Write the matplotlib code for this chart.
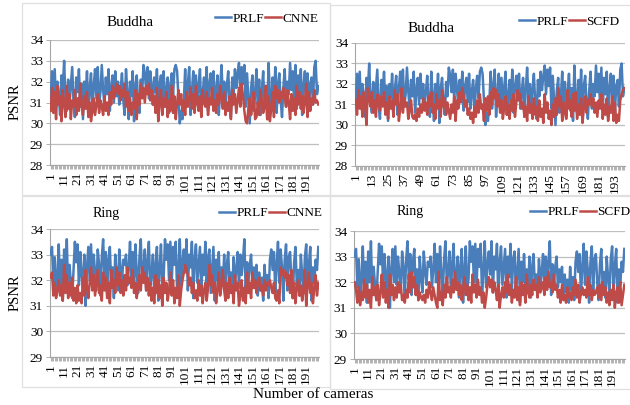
import numpy as np
import matplotlib
matplotlib.use("Agg")
import matplotlib.pyplot as plt
from matplotlib.patches import Rectangle

# ---------------- data ----------------
buddha_prlf = [
    31.2, 32.5, 31.0, 32.6, 30.8, 32.0, 31.4, 30.4, 32.3, 31.6,
    33.0, 31.2, 30.6, 32.1, 30.9, 31.8, 32.7, 31.0, 30.3, 32.2,
    31.5, 32.6, 30.8, 31.9, 30.2, 32.0, 31.3, 32.5, 30.6, 31.7,
    32.4, 30.5, 31.8, 32.6, 31.2, 32.7, 30.9, 31.5, 32.8, 31.6,
    30.8, 32.2, 31.4, 32.6, 30.6, 31.7, 32.3, 31.0, 32.5, 31.3,
    32.0, 30.9, 31.6, 32.4, 31.1, 30.4, 32.6, 31.5, 30.2, 32.0,
    31.3, 32.5, 30.1, 31.8, 32.3, 31.0, 30.5, 32.1, 31.4, 32.8,
    32.4, 31.6, 32.7, 31.2, 32.5, 31.8, 30.9, 32.2, 31.5, 32.6,
    30.7, 31.9, 32.3, 31.1, 32.5, 30.8, 31.6, 32.2, 30.5, 31.8,
    32.4, 31.3, 32.6, 32.8, 32.5, 31.2, 30.0, 30.6, 30.2, 31.1,
    32.6, 30.8, 31.9, 32.7, 30.4, 31.5, 32.5, 31.0, 32.3, 30.9,
    31.8, 32.6, 30.5, 31.4, 32.2, 31.0, 32.7, 30.6, 31.9, 32.4,
    31.2, 32.5, 30.8, 31.6, 32.3, 30.4, 31.7, 32.8, 31.3, 32.0,
    30.6, 31.8, 32.5, 31.1, 30.3, 32.2, 31.4, 32.6, 31.7, 32.4,
    32.9, 31.5, 32.7, 31.9, 32.8, 30.8, 32.4, 31.2, 30.0, 31.7,
    32.3, 30.6, 31.4, 32.6, 30.9, 32.1, 30.4, 31.6, 32.5, 30.7,
    31.8, 30.2, 32.9, 31.3, 30.6, 32.2, 31.0, 32.7, 30.5, 31.9,
    32.4, 31.1, 30.3, 31.7, 32.6, 30.8, 32.0, 31.4, 32.9, 31.6,
    32.5, 31.0, 32.8, 30.7, 32.3, 31.5, 32.6, 30.4, 31.8, 32.5,
    31.2, 32.4, 30.6, 31.9, 32.2, 30.9, 32.7, 33.0, 31.4, 31.8,
]

buddha_cnne = [
    30.6, 31.7, 30.5, 31.5, 30.2, 31.8, 30.9, 31.3, 30.1, 31.6,
    31.0, 30.3, 31.8, 30.7, 31.4, 30.2, 31.1, 30.8, 31.6, 30.4,
    31.2, 30.6, 31.9, 30.9, 30.4, 31.3, 30.7, 31.5, 30.3, 31.0,
    30.1, 30.6, 31.2, 30.4, 30.9, 31.4, 30.5, 31.1, 30.8, 30.4,
    31.3, 30.6, 31.0, 30.4, 31.5, 30.9, 31.8, 31.2, 31.6, 31.9,
    31.4, 31.8, 31.1, 31.6, 31.3, 31.9, 30.8, 31.5, 30.6, 31.2,
    30.4, 31.0, 30.7, 31.6, 30.2, 31.4, 30.9, 31.9, 31.2, 31.7,
    31.0, 31.8, 31.4, 31.9, 31.1, 31.6, 30.9, 31.3, 30.5, 31.7,
    30.1, 31.0, 31.6, 30.4, 31.2, 30.8, 31.5, 30.3, 31.1, 30.6,
    31.8, 30.5, 31.3, 30.2, 31.0, 31.6, 30.9, 31.4, 30.6, 31.1,
    30.4, 31.5, 30.8, 31.2, 31.7, 30.7, 31.4, 30.5, 31.8, 31.0,
    30.6, 31.3, 30.3, 31.6, 31.0, 30.8, 31.5, 30.4, 31.2, 30.9,
    31.7, 30.6, 31.1, 30.5, 31.4, 30.9, 31.8, 31.2, 30.7, 31.5,
    30.4, 31.0, 30.6, 31.3, 30.2, 31.6, 30.9, 31.4, 30.5, 31.1,
    31.7, 30.8, 31.9, 31.3, 30.6, 30.1, 30.0, 30.7, 31.2, 30.4,
    30.9, 31.5, 30.2, 30.3, 31.0, 30.4, 31.6, 31.1, 30.5, 30.9,
    31.8, 30.2, 31.3, 30.1, 30.7, 31.5, 30.3, 31.8, 31.2, 31.6,
    31.0, 31.5, 31.2, 31.7, 31.3, 30.8, 31.6, 31.0, 30.2, 31.4,
    30.6, 31.2, 30.4, 31.8, 30.9, 31.5, 30.7, 31.3, 30.5, 31.0,
    31.9, 30.3, 31.5, 30.6, 31.2, 30.9, 31.6, 31.0, 31.1, 30.9,
]

buddha_scfd = [
    31.2, 30.5, 31.7, 30.8, 31.4, 30.4, 31.6, 31.0, 30.0, 31.8,
    31.3, 30.9, 31.6, 30.6, 31.2, 30.4, 31.5, 31.0, 30.7, 31.4,
    30.9, 31.6, 30.5, 31.1, 30.3, 31.4, 30.8, 31.2, 30.4, 31.7,
    31.0, 31.5, 30.2, 30.8, 31.8, 30.6, 31.3, 30.9, 31.1, 30.3,
    30.7, 31.2, 30.4, 30.3, 30.5, 30.2, 30.8, 30.4, 31.0, 30.6,
    31.3, 30.7, 31.1, 30.5, 31.4, 30.9, 31.6, 30.6, 31.0, 30.3,
    31.5, 30.8, 31.2, 30.4, 31.7, 30.9, 31.3, 30.5, 31.1, 30.7,
    30.3, 31.0, 30.6, 31.4, 30.2, 31.2, 30.8, 31.6, 31.1, 31.8,
    31.4, 30.9, 31.2, 30.5, 30.8, 30.3, 30.6, 30.1, 30.9, 30.4,
    31.2, 30.6, 31.5, 30.8, 31.0, 30.2, 31.3, 30.7, 31.4, 30.5,
    31.6, 31.0, 31.8, 31.3, 31.7, 30.9, 31.5, 30.6, 31.2, 30.3,
    30.8, 31.4, 30.5, 31.0, 30.3, 31.2, 30.7, 31.5, 30.4, 31.1,
    31.7, 31.2, 31.5, 30.8, 31.1, 30.4, 30.9, 30.2, 31.4, 30.6,
    31.0, 30.3, 31.3, 30.5, 30.9, 30.2, 31.2, 30.4, 30.8, 30.1,
    31.5, 30.6, 31.1, 30.3, 30.7, 30.0, 31.0, 30.4, 31.3, 30.5,
    31.8, 30.9, 31.4, 30.2, 31.1, 30.6, 30.3, 31.7, 30.8, 31.2,
    30.4, 31.5, 30.7, 31.6, 30.3, 31.0, 30.5, 31.3, 30.1, 30.8,
    31.4, 30.6, 31.2, 31.0, 31.5, 30.9, 31.3, 30.6, 31.1, 30.4,
    31.2, 30.8, 31.5, 30.3, 31.0, 30.5, 31.3, 30.2, 30.9, 30.6,
    31.4, 30.2, 31.1, 30.1, 30.5, 30.2, 31.2, 31.5, 31.7, 31.8,
]

ring_prlf = [
    33.0, 33.3, 31.8, 32.9, 31.4, 32.1, 33.4, 31.6, 32.8, 31.2,
    33.2, 32.0, 33.6, 31.5, 32.6, 31.9, 31.3, 32.4, 33.5, 32.7,
    33.4, 31.8, 33.1, 32.2, 31.7, 33.0, 31.0, 32.5, 33.3, 32.0,
    33.4, 31.9, 33.0, 32.3, 31.6, 33.2, 32.6, 31.4, 32.9, 33.6,
    32.1, 33.1, 31.5, 32.8, 33.3, 31.8, 32.5, 31.3, 33.0, 32.2,
    31.6, 33.2, 32.4, 31.9, 32.8, 32.6, 33.0, 31.8, 32.5, 33.5,
    32.0, 33.1, 31.7, 33.4, 32.3, 31.5, 32.9, 33.6, 31.9, 32.4,
    33.2, 31.6, 32.7, 33.5, 31.8, 32.2, 33.0, 31.4, 32.6, 33.3,
    31.2, 32.5, 33.4, 31.7, 32.1, 33.6, 32.8, 33.4, 32.0, 33.5,
    31.9, 33.3, 32.6, 33.5, 31.5, 32.4, 33.6, 31.8, 32.7, 33.2,
    32.3, 33.6, 31.6, 33.0, 32.5, 33.5, 31.3, 32.8, 33.4, 31.9,
    32.6, 33.3, 31.4, 33.0, 32.2, 33.5, 31.7, 32.9, 33.2, 31.5,
    32.4, 33.3, 31.2, 32.8, 32.0, 33.1, 31.6, 32.5, 31.8, 33.0,
    31.4, 32.6, 33.1, 31.8, 32.3, 31.5, 32.9, 31.9, 32.4, 33.1,
    31.7, 33.0, 32.2, 32.8, 33.6, 31.5, 32.7, 31.9, 32.6, 33.0,
    31.8, 32.5, 32.0, 32.6, 31.4, 32.3, 31.6, 32.1, 31.2, 32.6,
    31.7, 32.2, 31.3, 32.8, 33.2, 32.4, 33.1, 31.5, 32.6, 33.5,
    31.9, 33.2, 32.5, 31.2, 32.8, 33.4, 31.6, 32.9, 33.1, 32.0,
    31.3, 32.7, 33.3, 31.8, 32.4, 31.4, 33.0, 32.2, 31.5, 32.9,
    33.4, 31.7, 32.6, 33.3, 31.2, 32.5, 31.9, 32.8, 32.4, 33.3,
]

ring_cnne = [
    32.1, 32.3, 31.4, 31.9, 31.3, 31.6, 32.0, 31.4, 31.8, 31.2,
    32.6, 31.5, 32.2, 31.3, 31.9, 31.4, 32.1, 31.2, 31.7, 31.1,
    31.8, 31.2, 31.5, 31.1, 32.1, 31.4, 32.4, 31.7, 31.3, 31.9,
    32.5, 31.6, 32.2, 31.4, 31.9, 32.4, 31.5, 31.8, 31.2, 32.3,
    31.6, 32.1, 31.3, 31.9, 31.1, 32.4, 31.7, 32.0, 31.5, 32.5,
    31.8, 32.3, 31.5, 32.0, 31.4, 32.2, 31.6, 32.5, 31.9, 32.1,
    31.7, 32.4, 31.5, 31.9, 31.3, 31.8, 32.2, 31.6, 32.5, 31.9,
    32.3, 31.6, 32.1, 31.4, 31.9, 31.2, 31.7, 31.1, 32.2, 31.5,
    32.0, 31.3, 31.8, 31.0, 32.1, 31.5, 31.9, 31.2, 31.6, 32.3,
    31.4, 32.0, 31.1, 31.7, 31.3, 32.2, 31.0, 31.6, 32.0, 32.3,
    32.6, 32.4, 32.2, 31.8, 32.1, 31.5, 31.9, 31.3, 31.6, 31.2,
    32.0, 31.4, 31.8, 31.1, 31.6, 31.9, 31.2, 31.7, 32.6, 31.8,
    32.2, 31.5, 31.9, 31.1, 31.6, 32.3, 31.4, 31.8, 32.4, 31.6,
    31.2, 31.9, 31.3, 32.1, 31.5, 31.8, 31.1, 32.2, 31.6, 31.9,
    31.0, 31.4, 32.0, 31.2, 31.7, 31.1, 32.3, 31.5, 31.9, 31.3,
    32.3, 31.7, 32.0, 31.5, 31.9, 32.1, 31.6, 31.8, 31.4, 32.0,
    31.6, 31.9, 31.8, 32.0, 31.7, 31.5, 31.9, 31.3, 31.2, 31.6,
    31.1, 32.5, 32.2, 32.4, 32.1, 32.3, 31.8, 32.2, 31.5, 32.4,
    31.3, 31.9, 31.1, 31.7, 32.0, 31.4, 31.8, 31.2, 31.6, 32.4,
    31.0, 31.8, 32.3, 31.5, 31.9, 31.1, 31.7, 32.2, 31.4, 31.9,
]

ring_scfd = [
    32.0, 31.7, 31.2, 31.8, 31.1, 31.6, 31.3, 32.1, 31.4, 31.9,
    31.2, 31.7, 31.0, 32.2, 31.5, 31.8, 31.3, 31.9, 31.1, 31.6,
    32.3, 31.4, 32.0, 31.2, 31.7, 31.0, 32.3, 31.5, 31.9, 31.3,
    31.8, 31.4, 32.0, 31.6, 31.9, 31.3, 31.5, 31.2, 31.7, 31.4,
    32.3, 31.6, 32.4, 31.8, 32.2, 31.5, 31.9, 31.3, 31.6, 31.4,
    31.3, 31.5, 31.2, 31.7, 31.4, 32.0, 31.6, 31.3, 31.8, 31.5,
    31.2, 31.0, 32.4, 31.3, 31.6, 31.1, 31.9, 31.4, 32.2, 31.6,
    31.8, 31.4, 32.1, 31.6, 32.4, 31.7, 32.0, 31.5, 31.9, 31.3,
    31.7, 32.2, 31.5, 31.9, 31.3, 31.8, 31.2, 32.3, 31.6, 31.9,
    31.4, 32.1, 31.5, 31.8, 31.2, 31.6, 31.0, 31.4, 31.9, 32.2,
    31.8, 32.1, 31.6, 32.0, 31.7, 31.3, 31.9, 31.0, 31.5, 31.8,
    31.4, 32.0, 31.6, 32.3, 31.5, 31.9, 31.2, 31.7, 31.4, 32.2,
    31.3, 31.8, 31.1, 32.0, 31.5, 31.9, 31.2, 32.3, 31.6, 31.4,
    31.9, 31.5, 32.1, 31.7, 31.9, 31.4, 32.2, 31.6, 31.8, 32.0,
    31.5, 32.2, 31.7, 32.4, 31.8, 32.0, 31.6, 32.3, 31.7, 31.9,
    31.4, 31.7, 31.2, 31.9, 31.3, 31.5, 31.2, 31.8, 31.4, 31.6,
    31.3, 31.8, 31.5, 32.1, 31.4, 31.9, 31.2, 31.6, 31.8, 31.5,
    31.7, 31.4, 32.2, 31.5, 31.9, 31.3, 31.7, 31.5, 31.6, 31.8,
    31.4, 31.9, 31.3, 32.0, 31.5, 31.8, 31.2, 31.6, 31.1, 31.7,
    31.3, 31.9, 31.0, 31.6, 31.8, 31.2, 32.0, 31.1, 31.5, 31.9,
]

cameras = list(range(1, len(buddha_prlf) + 1))

panels = [
    # title, prlf, other, other label, ylim, tick step
    ("Buddha", buddha_prlf, buddha_cnne, "CNNE", (28, 34), 10),
    ("Buddha", buddha_prlf, buddha_scfd, "SCFD", (28, 34), 12),
    ("Ring", ring_prlf, ring_cnne, "CNNE", (29, 34), 10),
    ("Ring", ring_prlf, ring_scfd, "SCFD", (29, 34), 10),
]

# ---------------- layout ----------------
W, H = 630, 405
plt.rcParams['font.family'] = ['Liberation Serif', 'DejaVu Serif']
fig = plt.figure(figsize=(W / 100, H / 100), dpi=100)
fig.patch.set_facecolor('white')

def fx(px):
    return px / W

def fy(py):
    return 1 - py / H

# chart frames (Excel chart areas)
frames = [(22, 3, 330, 195), (330, 5, 632, 195), (22, 196, 330, 387), (330, 196, 632, 389)]
for x0, y0, x1, y1 in frames:
    fig.patches.append(Rectangle((fx(x0), fy(y1)), fx(x1 - x0), (y1 - y0) / H,
                                 transform=fig.transFigure, fill=False,
                                 edgecolor='#E0E0E0', linewidth=0.9, zorder=0))

# axes boxes in pixels: left, top, right, bottom
ax_px = [(50, 40, 319, 165), (355, 43, 625, 166), (50, 229, 319, 357), (354, 231, 625, 359)]
title_pos = [(130, 22, 11), (431, 29, 11), (106, 214, 10), (410, 212, 10)]
legend_pos = [(215, 19), (519, 22), (219, 213), (530, 212)]

BLUE = '#4A7EBB'
RED = '#BE4B48'

for i, (title, prlf, other, olab, ylim, step) in enumerate(panels):
    l, t, r, b = ax_px[i]
    ax = fig.add_axes([fx(l), fy(b), fx(r - l), (b - t) / H])
    ax.plot(cameras, prlf, color=BLUE, lw=1.8, label='PRLF', zorder=3)
    ax.plot(cameras, other, color=RED, lw=1.8, label=olab, zorder=4)
    ax.set_xlim(0.5, len(cameras) + 0.5)
    ax.set_ylim(*ylim)
    ax.set_yticks(range(ylim[0], ylim[1] + 1))
    ax.yaxis.grid(True, color='#BFBFBF', lw=0.9)
    ax.set_axisbelow(True)
    ticks = cameras[::step]
    ax.set_xticks(ticks)
    ax.set_xticklabels([str(v) for v in ticks], rotation=90, fontsize=9.5)
    ax.set_xticks(cameras, minor=True)
    ax.tick_params(axis='x', which='both', length=3, width=0.6, color='#A6A6A6', pad=2)
    ax.tick_params(axis='y', length=3, width=0.6, color='#A6A6A6', labelsize=9.5, pad=2)
    for s in ('top', 'right'):
        ax.spines[s].set_visible(False)
    for s in ('left', 'bottom'):
        ax.spines[s].set_color('#A6A6A6')
        ax.spines[s].set_linewidth(0.8)
    tx, ty, tfs = title_pos[i]
    fig.text(fx(tx), fy(ty), title, ha='center', va='center', fontsize=tfs)
    lx, ly = legend_pos[i]
    ax.legend(loc='center left', bbox_to_anchor=(fx(lx), fy(ly)), bbox_transform=fig.transFigure,
              ncol=2, frameon=False, fontsize=9.5, handlelength=1.2, handletextpad=0.1,
              columnspacing=0.1, borderpad=0, borderaxespad=0)

fig.text(fx(15), fy(102), 'PSNR', rotation=90, ha='center', va='center', fontsize=10.5)
fig.text(fx(15), fy(293), 'PSNR', rotation=90, ha='center', va='center', fontsize=10.5)
fig.text(fx(313), fy(395), 'Number of cameras', ha='center', va='center', fontsize=11)

fig.savefig('out.png', dpi=100)
